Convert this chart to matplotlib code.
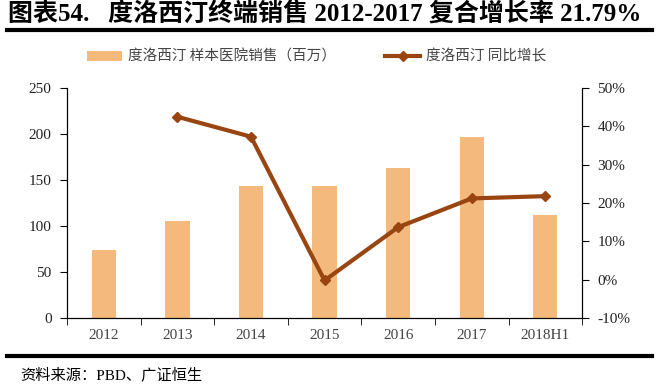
import matplotlib
matplotlib.use('Agg')
import matplotlib.pyplot as plt
import numpy as np

plt.rcParams['font.family'] = ['Liberation Serif', 'Noto Sans CJK SC']

categories = ['2012', '2013', '2014', '2015', '2016', '2017', '2018H1']
sales = [74, 105, 144, 143, 163, 197, 112]
growth = [None, 42.5, 37.3, -0.2, 13.7, 21.2, 21.8]

barColor = '#F4B97C'
lineColor = '#994512'

fig = plt.figure(figsize=(6.6, 3.86), dpi=100)
ax = fig.add_axes([0.1015, 0.176, 0.7805, 0.596])
ax2 = ax.twinx()

x = np.arange(len(categories))
bars = ax.bar(x, sales, width=0.33, color=barColor, label='度洛西汀 样本医院销售（百万）', zorder=2)

gx = [i for i, g in enumerate(growth) if g is not None]
gy = [g for g in growth if g is not None]
line, = ax2.plot(gx, gy, color=lineColor, linewidth=3, marker='D', markersize=5,
                 label='度洛西汀 同比增长', zorder=3)

ax.set_xlim(-0.5, len(categories) - 0.5)
ax.set_ylim(0, 250)
ax.set_yticks(np.arange(0, 251, 50))
ax2.set_ylim(-10, 50)
ax2.set_yticks(np.arange(-10, 51, 10))
ax2.set_yticklabels(['{}%'.format(v) for v in range(-10, 51, 10)])

ax.set_xticks(x)
ax.set_xticklabels(categories)
ax.set_xticks(np.arange(-0.5, len(categories), 1), minor=True)
ax.tick_params(axis='x', which='major', length=0, pad=8)
ax.tick_params(axis='x', which='minor', length=5, direction='out')

for a in (ax, ax2):
    a.spines['top'].set_visible(False)
    a.tick_params(labelsize=11, colors='#333333')
    a.tick_params(axis='y', length=5, direction='out', pad=6, colors='black', labelcolor='#222222')
ax.tick_params(axis='x', labelcolor='#444444')

fig.legend([bars, line], [bars.get_label(), line.get_label()], ncol=2, frameon=False,
           loc='center', bbox_to_anchor=(0.48, 0.853), columnspacing=3.4,
           handlelength=2.4, handletextpad=0.4, prop={'family': ['Noto Sans CJK SC'], 'size': 10.5})
for t in fig.legends[0].get_texts():
    t.set_color('#444444')

fig.text(0.012, 0.962, '图表54.   度洛西汀终端销售 2012-2017 复合增长率 21.79%', fontsize=18,
         fontweight='bold', va='center', ha='left')
fig.add_artist(plt.Line2D([0.011, 0.988], [0.922, 0.922], color='black', linewidth=3))
fig.add_artist(plt.Line2D([0.011, 0.988], [0.078, 0.078], color='black', linewidth=3))
fig.text(0.03, 0.03, '资料来源：PBD、广证恒生', fontsize=11, va='center', ha='left')

plt.savefig('out.png', dpi=100)
